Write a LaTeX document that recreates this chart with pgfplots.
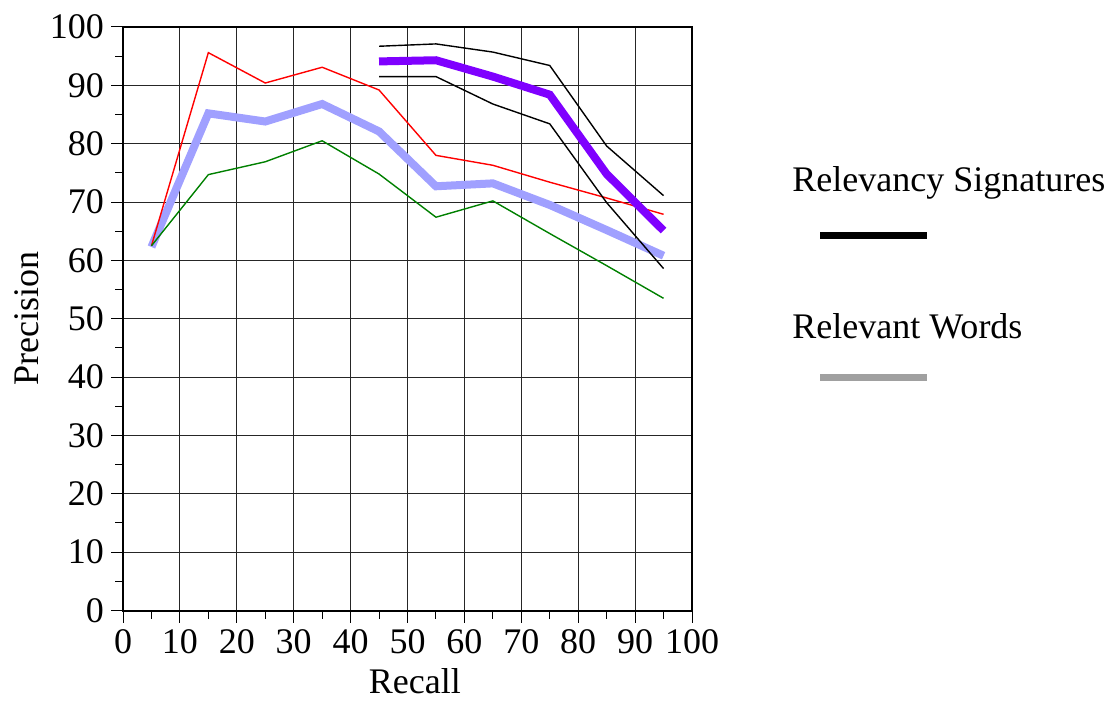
\documentclass[border=0pt]{standalone}
\usepackage{fontspec}
\setmainfont{Liberation Serif}
\usepackage{pgfplots}
\pgfplotsset{compat=1.18}
\definecolor{redline}{RGB}{255,0,0}
\definecolor{greenline}{RGB}{0,128,0}
\definecolor{lightblue}{RGB}{160,160,255}
\definecolor{purpleline}{RGB}{127,0,255}
\definecolor{legendgray}{RGB}{160,160,160}
\begin{document}
\begin{tikzpicture}[font=\fontsize{18}{21}\selectfont]
\useasboundingbox (-61.5pt,-44.75pt) rectangle (491.5pt,305.25pt);
\begin{axis}[
  at={(0,0)}, anchor=south west,
  scale only axis,
  width=284.5pt, height=291.75pt,
  xmin=0, xmax=100, ymin=0, ymax=100,
  xtick={0,10,...,100}, ytick={0,10,...,100},
  minor tick num=1,
  tick align=outside,
  major tick length=6pt, minor tick length=4pt,
  xtick pos=bottom, ytick pos=left,
  grid=major,
  major grid style={line width=0.5pt, black!85},
  axis line style={line width=1pt},
  every tick/.style={black, line width=0.5pt},
  /pgf/number format/assume math mode=true,
  xlabel={Recall}, ylabel={Precision},
  xlabel style={at={(axis description cs:0.513,-0.1414)}, anchor=base},
  ylabel style={at={(axis description cs:-0.1687,0.5)}, anchor=center},
  clip=false,
]
\addplot[lightblue, line width=4pt] coordinates {(5,62.3)(15,85.2)(25,83.8)(35,86.8)(45,82.1)(55,72.7)(65,73.2)(75,69.5)(85,65.2)(95,60.8)};
\addplot[redline, line width=0.7pt] coordinates {(5,62.5)(15,95.6)(25,90.4)(35,93.1)(45,89.2)(55,78.0)(65,76.3)(75,73.4)(85,70.7)(95,67.9)};
\addplot[greenline, line width=0.7pt] coordinates {(5,62.5)(15,74.7)(25,76.9)(35,80.5)(45,74.8)(55,67.4)(65,70.2)(75,64.6)(85,59.1)(95,53.5)};
\addplot[black, line width=0.7pt] coordinates {(45,96.7)(55,97.1)(65,95.7)(75,93.4)(85,79.6)(95,71.1)};
\addplot[black, line width=0.7pt] coordinates {(45,91.5)(55,91.5)(65,86.8)(75,83.4)(85,69.9)(95,58.6)};
\addplot[purpleline, line width=4pt] coordinates {(45,94.1)(55,94.3)(65,91.5)(75,88.4)(85,74.8)(95,65.1)};
\end{axis}
\node[anchor=west, inner sep=0pt] at (334.5pt,213.75pt) {Relevancy Signatures};
\draw[black, line width=3.5pt] (348.5pt,187.25pt) -- (402pt,187.25pt);
\node[anchor=west, inner sep=0pt] at (334.5pt,142.25pt) {Relevant Words};
\draw[legendgray, line width=3.5pt] (348.5pt,116.25pt) -- (402pt,116.25pt);
\end{tikzpicture}
\end{document}
